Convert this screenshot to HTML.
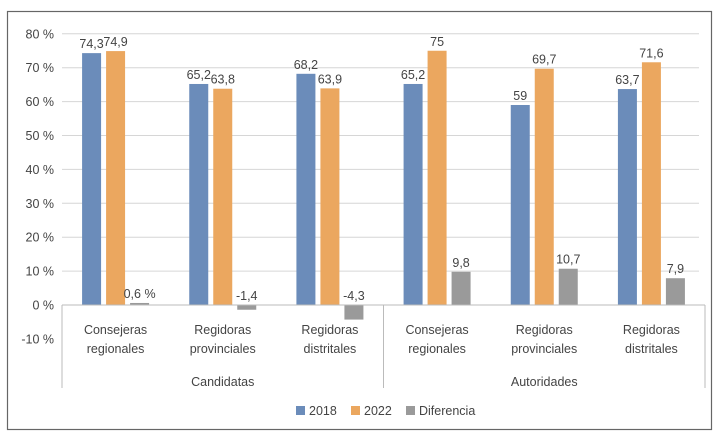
<!DOCTYPE html>
<html><head><meta charset="utf-8"><style>
html,body{margin:0;padding:0;background:#fff;}
svg text{font-family:"Liberation Sans",sans-serif;fill:#444;}
</style></head><body>
<svg width="727" height="435" viewBox="0 0 727 435">
<rect x="7.5" y="11.5" width="704" height="418" fill="#fff" stroke="#666" stroke-width="1.2"/>
<g id="grid"></g><g id="bars"></g><g id="labels"></g><g id="axis"></g>
<g>
<rect x="296" y="406" width="9" height="9" fill="#6b8cba"/>
<text x="309" y="415" font-size="12.5">2018</text>
<rect x="351" y="406" width="9" height="9" fill="#eba75f"/>
<text x="364" y="415" font-size="12.5">2022</text>
<rect x="406" y="406" width="9" height="9" fill="#9a9a9a"/>
<text x="419" y="415" font-size="12.5">Diferencia</text>
</g>
</svg>
<script>
const categories=[["Consejeras","regionales"],["Regidoras","provinciales"],["Regidoras","distritales"],["Consejeras","regionales"],["Regidoras","provinciales"],["Regidoras","distritales"]];
const groups=["Candidatas","Autoridades"];
const v2018=[74.3,65.2,68.2,65.2,59,63.7];
const v2022=[74.9,63.8,63.9,75,69.7,71.6];
const vDiff=[0.6,-1.4,-4.3,9.8,10.7,7.9];
const diffLabels=["0,6 %","-1,4","-4,3","9,8","10,7","7,9"];
const ticks=[-10,0,10,20,30,40,50,60,70,80];
const NS="http://www.w3.org/2000/svg";
const x0=62,x1=705,y0=305,pxPer=3.39;
const y=v=>y0-v*pxPer;
const cw=(x1-x0)/categories.length;
const cx=i=>x0+cw*(i+0.5);
function mk(tag,attrs,parent){const e=document.createElementNS(NS,tag);for(const k in attrs)e.setAttribute(k,attrs[k]);document.getElementById(parent).appendChild(e);return e;}
const fmt=v=>String(v).replace('.',',');
ticks.forEach(t=>{
  if(t>0){const l=mk('line',{x1:x0,x2:x1-6,y1:y(t),y2:y(t),stroke:'#d6d6d6','stroke-width':1},'grid');
  
  }
  const tx=mk('text',{x:54,y:y(t)+4.5,'font-size':12.5,'text-anchor':'end'},'axis');
  tx.textContent=t+' %';
  
  
});
const series=[[v2018,'#6b8cba',-24,'2018'],[v2022,'#eba75f',0,'2022'],[vDiff,'#9a9a9a',24,'diferencia']];
series.forEach(([vals,col,off,nm])=>{
  vals.forEach((v,i)=>{
    const xc=cx(i)+off;
    const r=mk('rect',{x:xc-9.5,y:Math.min(y(v),y0),width:19,height:Math.abs(y(v)-y0),fill:col},'bars');
    
    
    const lab=nm==='diferencia'?diffLabels[i]:fmt(v);
    const ty=(v>=0?y(v):y0)-5;
    const t=mk('text',{x:xc,y:ty,'font-size':12.5,'text-anchor':'middle'},'labels');
    t.textContent=lab;
    
    
  });
});
const ax=mk('line',{x1:x0,x2:x1,y1:y0,y2:y0,stroke:'#bbb'},'axis');


[x0,x0+cw*3,x1].forEach(xx=>{
  const l=mk('line',{x1:xx,x2:xx,y1:y0,y2:388,stroke:'#bbb'},'axis');
  
  
});
categories.forEach((c,i)=>{
  c.forEach((s,j)=>{
    const t=mk('text',{x:cx(i),y:334+j*19,'font-size':12.5,'text-anchor':'middle'},'axis');
    t.textContent=s;
    
    
  });
});
groups.forEach((g,i)=>{
  const t=mk('text',{x:x0+cw*3*(i+0.5),y:386,'font-size':12.5,'text-anchor':'middle'},'axis');
  t.textContent=g;
  
  
});
</script>
</body></html>
